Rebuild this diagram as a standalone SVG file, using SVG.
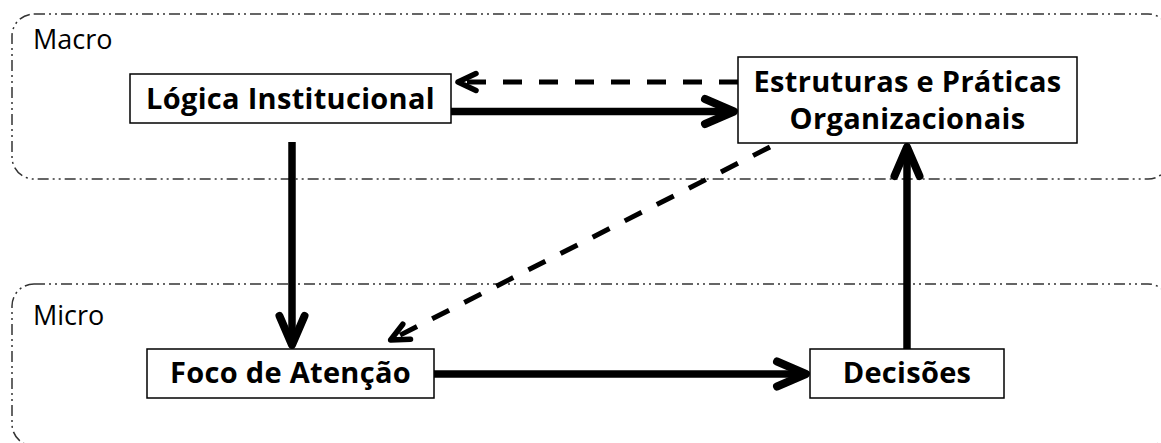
<svg xmlns="http://www.w3.org/2000/svg" width="1161" height="443" viewBox="0 0 1161 443">
<style>
.grp{fill:none;stroke:#333;stroke-width:1.5;stroke-dasharray:11 4 2 4 2 4}
.box{fill:#fff;stroke:#000;stroke-width:1.5}
.lbl{font-family:"Open Sans",sans-serif;font-weight:bold;font-size:29px;letter-spacing:0.3px;fill:#000;text-anchor:middle}
.glbl{font-family:"Open Sans",sans-serif;font-size:27px;fill:#000}
.solid{stroke:#000;stroke-width:7.5;fill:none}
.dash{stroke:#000;stroke-width:5;fill:none;stroke-dasharray:19 17}
</style>
<defs>
<marker id="ahS" markerUnits="userSpaceOnUse" viewBox="-45 -25 55 50" markerWidth="55" markerHeight="50" refX="-4" refY="0" orient="auto">
<path d="M-32,-12.5 L-3,0 L-32,12.5" fill="none" stroke="#000" stroke-width="8" stroke-linecap="round" stroke-linejoin="round"/>
</marker>
<marker id="ahD" markerUnits="userSpaceOnUse" viewBox="-35 -20 45 40" markerWidth="45" markerHeight="40" refX="-3" refY="0" orient="auto">
<path d="M-20,-8.5 L-2,0 L-20,8.5" fill="none" stroke="#000" stroke-width="5.5" stroke-linecap="round" stroke-linejoin="round"/>
</marker>
</defs>
<g id="macro">
<rect class="grp" x="12" y="14" width="1158" height="165" rx="22"/>
<text class="glbl" x="33" y="49">Macro</text>
</g>
<g id="micro">
<rect class="grp" x="12" y="284" width="1158" height="162" rx="22"/>
<text class="glbl" x="33" y="325">Micro</text>
</g>
<g id="connectors">
<line class="dash" x1="738" y1="82" x2="459" y2="82" marker-end="url(#ahD)"/>
<line class="solid" x1="451" y1="111.5" x2="733" y2="111.5" marker-end="url(#ahS)"/>
<line class="solid" x1="292" y1="142" x2="292" y2="344" marker-end="url(#ahS)"/>
<line class="solid" x1="434" y1="374" x2="805" y2="374" marker-end="url(#ahS)"/>
<line class="solid" x1="907" y1="349" x2="907" y2="148" marker-end="url(#ahS)"/>
<line class="dash" x1="770" y1="147" x2="391.5" y2="339.5" marker-end="url(#ahD)"/>
</g>
<g id="logica">
<rect class="box" x="130" y="74" width="321" height="49"/>
<text class="lbl" x="290.5" y="109">Lógica Institucional</text>
</g>
<g id="estruturas">
<rect class="box" x="738" y="57" width="339" height="86"/>
<text class="lbl" x="907.5" y="92">Estruturas e Práticas</text>
<text class="lbl" x="907.5" y="129">Organizacionais</text>
</g>
<g id="foco">
<rect class="box" x="147" y="349" width="287" height="49"/>
<text class="lbl" x="290.5" y="383">Foco de Atenção</text>
</g>
<g id="decisoes">
<rect class="box" x="810" y="349" width="194" height="49"/>
<text class="lbl" x="907" y="383">Decisões</text>
</g>
</svg>
